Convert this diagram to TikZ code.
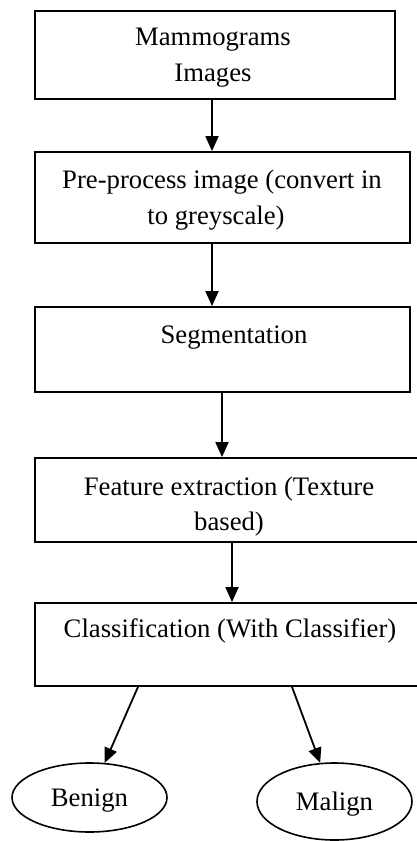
\documentclass[tikz,border=0pt]{standalone}
\usepackage{fontspec}
\setmainfont{Liberation Serif}
\usetikzlibrary{arrows.meta,shapes.geometric}
\begin{document}
\begin{tikzpicture}[x=1pt,y=-1pt,
  box/.style={draw, line width=1.8pt, rectangle, inner sep=0pt},
  oval/.style={draw, line width=1.6pt, ellipse, inner sep=0pt, font=\fontsize{26.7}{36}\selectfont, text height=18pt, text depth=0pt},
  lbl/.style={anchor=base, inner sep=0pt, font=\fontsize{26.7}{36}\selectfont},
  arr/.style={line width=1.8pt, -{Triangle[length=15pt,width=13pt]}}]
\useasboundingbox (0,0) rectangle (416,841);
\fill[white] (0,0) rectangle (416,841);

% boxes
\node[box, minimum width=360pt, minimum height=88pt] (b1) at (215,55) {};
\node[box, minimum width=375pt, minimum height=91pt] (b2) at (222.5,197.5) {};
\node[box, minimum width=375pt, minimum height=85pt] (b3) at (222.5,349.5) {};
\node[box, minimum width=385pt, minimum height=84pt] (b4) at (227.5,500) {};
\node[box, minimum width=385pt, minimum height=83pt] (b5) at (227.5,644.5) {};

% texts
\node[lbl] (t1a) at (213,45) {Mammograms};
\node[lbl] (t1b) at (213,81) {Images};
\node[lbl] (t2a) at (222,188) {Pre-process image (convert in};
\node[lbl] (t2b) at (216,224) {to greyscale)};
\node[lbl] (t3) at (234,343) {Segmentation};
\node[lbl] (t4a) at (229,495) {Feature extraction (Texture};
\node[lbl] (t4b) at (229,530) {based)};
\node[lbl] (t5) at (230,637) {Classification (With Classifier)};

% outcomes
\node[oval, minimum width=155pt, minimum height=69pt] (benign) at (89.5,797.5) {Benign};
\node[oval, minimum width=155pt, minimum height=77pt] (malign) at (334.5,801.5) {Malign};

% connectors
\draw[arr] (b1.south -| 212,0) -- (b2.north -| 212,0);
\draw[arr] (b2.south -| 212,0) -- (b3.north -| 212,0);
\draw[arr] (b3.south -| 222,0) -- (b4.north -| 222,0);
\draw[arr] (b4.south -| 232,0) -- (b5.north -| 232,0);
\draw[arr] (b5.south -| 138,0) -- (benign);
\draw[arr] (b5.south -| 292,0) -- (malign);
\end{tikzpicture}
\end{document}
